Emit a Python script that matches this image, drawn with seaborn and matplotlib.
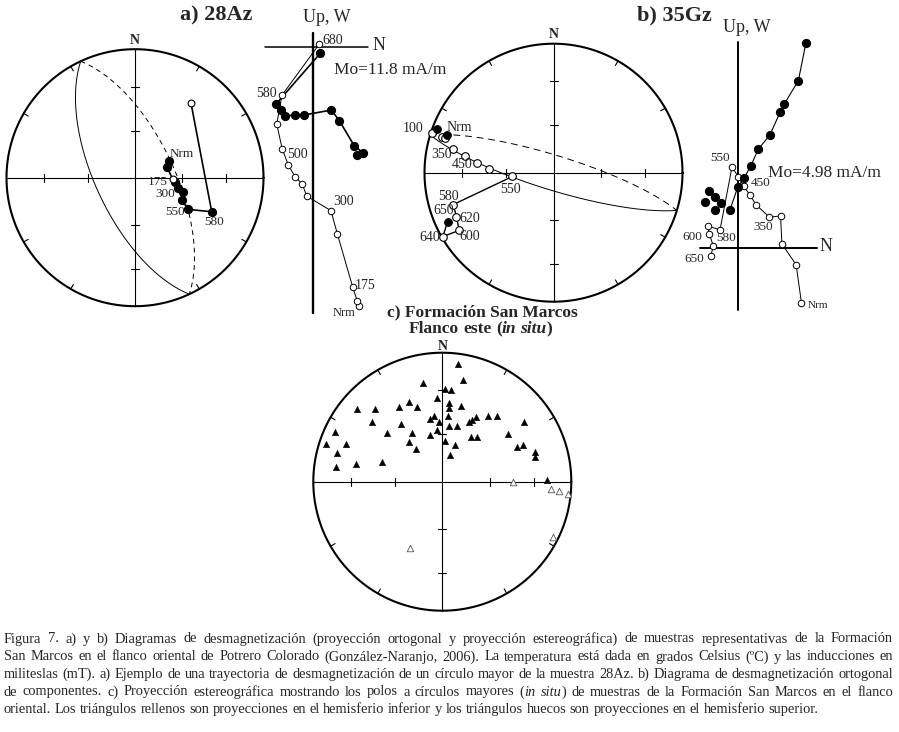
import numpy as np
import matplotlib
matplotlib.use("Agg")
import matplotlib.pyplot as plt
import seaborn as sns

W, H = 899, 732

# ---- a) 28Az, equal-area net (east, north on unit primitive), demag order
a_net_east = [0.267, 0.251, 0.293, 0.311, 0.337, 0.376, 0.368, 0.410, 0.597, 0.436]
a_net_north = [0.130, 0.081, -0.013, -0.031, -0.078, -0.109, -0.174, -0.246, -0.265, 0.579]
a_net_lower = [1, 1, 0, 1, 1, 1, 1, 1, 1, 0]
a_plane = (245, 65)  # dip direction, dip of the fitted great circle

# ---- a) 28Az, orthogonal plot (mA/m)
a_open_n = [2.05, 1.97, 1.77, 1.08, 0.79, -0.30, -0.49, -0.82, -1.12, -1.39, -1.64, -1.40, 0.27]
a_open_up = [-11.63, -11.40, -10.79, -8.40, -7.35, -6.70, -6.16, -5.83, -5.30, -4.60, -3.47, -2.17, 0.12]
a_fill_n = [1.97, 2.22, 1.84, 1.17, 0.81, -0.40, -0.83, -1.26, -1.45, -1.67, 0.31]
a_fill_up = [-4.86, -4.75, -4.45, -3.32, -2.84, -3.06, -3.06, -3.11, -2.84, -2.57, -0.30]

# ---- b) 35Gz, equal-area net
b_net_east = [-0.905, -0.940, -0.867, -0.841, -0.829, -0.781, -0.686, -0.591, -0.498,
              -0.318, -0.777, -0.752, -0.731, -0.859, -0.820]
b_net_north = [0.336, 0.305, 0.279, 0.267, 0.296, 0.184, 0.129, 0.073, 0.026,
               -0.029, -0.247, -0.343, -0.447, -0.496, -0.380]
b_net_lower = [1, 0, 0, 0, 1, 0, 0, 0, 0, 0, 0, 0, 0, 0, 1]
b_net_linked = 9  # points from 550 on are joined
b_plane = (197, 79)

# ---- b) 35Gz, orthogonal plot (mA/m)
b_open_n = [1.42, 1.30, 0.98, 0.95, 0.70, 0.40, 0.26, 0.12, 0.00, -0.14, -0.41, -0.69, -0.65, -0.56, -0.62]
b_open_up = [-1.25, -0.39, 0.08, 0.71, 0.68, 0.96, 1.18, 1.38, 1.58, 1.82, 0.40, 0.48, 0.30, 0.03, -0.19]
b_fill_n = [1.52, 1.35, 1.03, 0.94, 0.71, 0.45, 0.28, 0.13, -0.01, -0.19]
b_fill_up = [4.60, 3.75, 3.22, 3.04, 2.53, 2.21, 1.83, 1.56, 1.36, 0.84]
b_loose_n = [-0.66, -0.52, -0.75, -0.40, -0.52]
b_loose_up = [1.28, 1.13, 1.02, 1.01, 0.84]

# ---- c) poles to great circles, in situ
c_low_x = [0.124, 0.163, -0.147, 0.021, 0.065, -0.043, -0.256, -0.333, -0.194, -0.664,
           -0.522, 0.054, 0.052, 0.143, 0.047, -0.062, -0.095, -0.023, -0.547, -0.322,
           0.209, 0.228, 0.259, 0.357, 0.422, 0.633, 0.052, 0.116, -0.039, -0.237,
           -0.095, -0.431, -0.829, -0.902, -0.747, -0.256, 0.021, 0.225, 0.269, 0.512,
           0.581, 0.628, 0.721, 0.721, -0.204, 0.101, 0.062, -0.814, -0.822, -0.669,
           -0.470, 0.814]
c_low_y = [0.910, 0.788, 0.763, 0.716, 0.711, 0.651, 0.615, 0.581, 0.581, 0.564,
           0.561, 0.612, 0.574, 0.587, 0.509, 0.512, 0.486, 0.460, 0.465, 0.445,
           0.460, 0.478, 0.499, 0.512, 0.509, 0.463, 0.434, 0.434, 0.401, 0.380,
           0.362, 0.375, 0.383, 0.290, 0.292, 0.310, 0.316, 0.347, 0.344, 0.367,
           0.267, 0.282, 0.230, 0.194, 0.251, 0.284, 0.207, 0.220, 0.116, 0.135,
           0.153, 0.011]
c_up_x = [0.550, 0.840, 0.907, 0.973, 0.856, -0.250]
c_up_y = [0.000, -0.059, -0.072, -0.095, -0.426, -0.517]

caption = [
    "Figura 7. a) y b) Diagramas de desmagnetización (proyección ortogonal y proyección estereográfica) de muestras representativas de la Formación",
    "San Marcos en el flanco oriental de Potrero Colorado (González-Naranjo, 2006). La temperatura está dada en grados Celsius (ºC) y las inducciones en",
    "militeslas (mT). a) Ejemplo de una trayectoria de desmagnetización de un círculo mayor de la muestra 28Az. b) Diagrama de desmagnetización ortogonal",
    "de componentes. c) Proyección estereográfica mostrando los polos a círculos mayores (|in situ|) de muestras de la Formación San Marcos en el flanco",
    "oriental. Los triángulos rellenos son proyecciones en el hemisferio inferior y los triángulos huecos son proyecciones en el hemisferio superior.",
]

sns.set_theme(style="white")
plt.rcParams["font.family"] = ["Liberation Serif", "DejaVu Serif"]

fig = plt.figure(figsize=(W / 100, H / 100), dpi=100)
fig.patch.set_facecolor("white")
renderer = fig.canvas.get_renderer()
limits = []


def px_axes(x0, y0, x1, y1, xlim, ylim):
    ax = fig.add_axes([x0 / W, 1 - y1 / H, (x1 - x0) / W, (y1 - y0) / H])
    ax.set_axis_off()
    limits.append((ax, xlim, ylim))
    return ax


def label(x, y, s, size=10, ha="center", **kw):
    return fig.text(x / W, 1 - y / H, s, fontsize=size, ha=ha, va="center", **kw)


def fig_line(x0, y0, x1, y1, lw):
    fig.add_artist(plt.Line2D([x0 / W, x1 / W], [1 - y0 / H, 1 - y1 / H],
                              color="black", lw=lw, zorder=-1))


def ea_r(inc):
    return np.sqrt(2) * np.sin(np.radians(90 - inc) / 2)


def stereonet(cx, cy, r, pad=34, n_gap=9):
    lim = 1 + pad / r
    ax = px_axes(cx - r - pad, cy - r - pad, cx + r + pad, cy + r + pad, (-lim, lim), (-lim, lim))
    t = np.linspace(0, 2 * np.pi, 361)
    ax.plot(np.cos(t), np.sin(t), color="black", lw=1.5)
    ax.plot([-1, 1], [0, 0], color="black", lw=0.8)
    ax.plot([0, 0], [-1, 1], color="black", lw=0.8)
    k = 4.0 / r
    for inc in (30, 60):
        d = ea_r(inc)
        for s in (-d, d):
            ax.plot([s, s], [-k, k], color="black", lw=0.8)
            ax.plot([-k, k], [s, s], color="black", lw=0.8)
    for az in np.radians([30, 60, 120, 150, 210, 240, 300, 330]):
        ax.plot([np.sin(az), (1 - 1.3 * k) * np.sin(az)],
                [np.cos(az), (1 - 1.3 * k) * np.cos(az)], color="black", lw=0.8)
    label(cx, cy - r - n_gap, "N", size=10, fontweight="bold")
    return ax


def great_circle(dd, dip, upper=False):
    t = np.linspace(0, np.pi, 181) + (np.pi if upper else 0)
    a, d = np.radians(dd), np.radians(dip)
    strike = np.array([np.sin(a - np.pi / 2), np.cos(a - np.pi / 2), 0])
    down = np.array([np.sin(a) * np.cos(d), np.cos(a) * np.cos(d), np.sin(d)])
    p = np.outer(np.cos(t), strike) + np.outer(np.sin(t), down)
    inc = np.arcsin(np.clip(np.abs(p[:, 2]), 0, 1))
    az = np.arctan2(p[:, 0], p[:, 1])
    r = np.sqrt(2) * np.sin((np.pi / 2 - inc) / 2)
    return r * np.sin(az), r * np.cos(az)


def path(ax, x, y, lw=1.0, **kw):
    sns.lineplot(x=list(x), y=list(y), sort=False, estimator=None, color="black",
                 lw=lw, ax=ax, **kw)


def dots(ax, x, y, filled, s=30, marker="o", lw=0.8, edge="black"):
    if len(x) == 0:
        return
    sns.scatterplot(x=list(x), y=list(y), color="black" if filled else "white",
                    edgecolor=edge, linewidth=lw, s=s, marker=marker, zorder=3, ax=ax)


def split(x, y, flags, want):
    return ([v for v, f in zip(x, flags) if f == want],
            [v for v, f in zip(y, flags) if f == want])


def text_width(s, size, weight="normal"):
    t = fig.text(0, 0, s, fontsize=size, fontweight=weight)
    w = t.get_window_extent(renderer).width
    t.remove()
    return w


def rich_line(y, line, size, x0, x1=None, center=None, weight="normal"):
    words, italic = [], False
    for w in line.split(" "):
        pieces = []
        for i, part in enumerate(w.split("|")):
            if i > 0:
                italic = not italic
            if part:
                pieces.append((part, italic))
        words.append(pieces)
    objs, widths = [], []
    for pieces in words:
        row, wsum = [], 0.0
        for txt, it in pieces:
            t = label(0, y, txt, size=size, ha="left", fontweight=weight,
                      fontstyle="italic" if it else "normal")
            wd = t.get_window_extent(renderer).width
            row.append((t, wd))
            wsum += wd
        objs.append(row)
        widths.append(wsum)
    space = size * 100 / 72 * 0.25
    if x1 is not None:
        gap = (x1 - x0 - sum(widths)) / (len(words) - 1)
    else:
        gap = space
    if center is not None:
        x0 = center - (sum(widths) + gap * (len(words) - 1)) / 2
    x = x0
    for row, wsum in zip(objs, widths):
        for t, wd in row:
            t.set_x(x / W)
            x += wd
        x += gap


# ---------------- panel a: stereonet
ax = stereonet(135, 177.7, 128.5)
gx, gy = great_circle(*a_plane)
path(ax, gx, gy, lw=0.7)
gx, gy = great_circle(*a_plane, upper=True)
path(ax, gx, gy, lw=0.7, linestyle=(0, (5, 4)))
path(ax, a_net_east, a_net_north, lw=1.2)
dots(ax, *split(a_net_east, a_net_north, a_net_lower, 1), True, s=34)
dots(ax, *split(a_net_east, a_net_north, a_net_lower, 0), False, s=24)
for x, y, s in [(181.7, 154, "Nrm"), (157.5, 182, "175"), (165, 194, "300"),
                (175, 211.7, "550"), (214, 221.7, "580")]:
    label(x, y, s, size=9.5)
label(216.5, 15, "a) 28Az", size=16, fontweight="bold")

# ---------------- panel a: orthogonal plot
box, org, sc = (250, 0, 400, 330), (313.3, 46.7), 22.3
ax = px_axes(*box, ((box[0] - org[0]) / sc, (box[2] - org[0]) / sc),
             ((org[1] - box[3]) / sc, (org[1] - box[1]) / sc))
fig_line(313.3, 33, 313.3, 313, 1.7)
fig_line(265, 46.7, 368, 46.7, 1.1)
path(ax, a_open_n, a_open_up, lw=0.7)
path(ax, a_fill_n, a_fill_up, lw=1.2)
dots(ax, a_open_n, a_open_up, False, s=22, lw=0.7)
dots(ax, a_fill_n, a_fill_up, True, s=34)
for x, y, s in [(333, 40, "680"), (266.7, 93.3, "580"), (297.5, 154, "500"),
                (344, 201.7, "300"), (365, 285, "175")]:
    label(x, y, s, size=10)
label(344, 313.3, "Nrm", size=9)
label(326.7, 17, "Up, W", size=13)
label(379, 45, "N", size=13)
label(334, 70, "Mo=11.8 mA/m", size=12.5, ha="left")

# ---------------- panel b: stereonet
ax = stereonet(553.5, 172.7, 129)
gx, gy = great_circle(*b_plane)
path(ax, gx, gy, lw=0.7)
gx, gy = great_circle(*b_plane, upper=True)
path(ax, gx, gy, lw=0.7, linestyle=(0, (7, 5)))
path(ax, b_net_east[b_net_linked:], b_net_north[b_net_linked:], lw=1.0)
dots(ax, *split(b_net_east, b_net_north, b_net_lower, 0), False, s=30)
dots(ax, *split(b_net_east, b_net_north, b_net_lower, 1), True, s=30)
for x, y, s in [(413, 128.3, "100"), (459, 127.3, "Nrm"), (441.7, 154, "350"),
                (461.7, 165, "450"), (510, 189.3, "550"), (448.3, 196.7, "580"),
                (443.3, 210.7, "650"), (470, 218.3, "620"), (470, 236.7, "600"),
                (429.3, 237.3, "640")]:
    label(x, y, s, size=10)
label(674, 15, "b) 35Gz", size=16, fontweight="bold")

# ---------------- panel b: orthogonal plot
box, org, sc = (690, 20, 840, 320), (738.3, 247.5), 44.5
ax = px_axes(*box, ((box[0] - org[0]) / sc, (box[2] - org[0]) / sc),
             ((org[1] - box[3]) / sc, (org[1] - box[1]) / sc))
fig_line(738.3, 41.7, 738.3, 310, 1.4)
fig_line(700, 247.5, 816.7, 247.5, 1.4)
path(ax, b_open_n, b_open_up, lw=0.7)
path(ax, b_fill_n, b_fill_up, lw=0.8)
dots(ax, b_open_n, b_open_up, False, s=22, lw=0.7)
dots(ax, b_fill_n + b_loose_n, b_fill_up + b_loose_up, True, s=34)
for x, y, s in [(720, 158.3, "550"), (760.8, 183.3, "450"), (763.3, 227.3, "350"),
                (726, 238.3, "580"), (692, 237, "600"), (694, 259, "650")]:
    label(x, y, s, size=9.5)
label(808, 305.7, "Nrm", size=8, ha="left")
label(746.7, 27, "Up, W", size=13)
label(826, 246, "N", size=13)
label(768, 173, "Mo=4.98 mA/m", size=12.5, ha="left")

# ---------------- panel c
ax = stereonet(442.3, 481.7, 129, n_gap=6)
dots(ax, c_low_x, c_low_y, True, s=22, marker="^", lw=0.3)
dots(ax, c_up_x, c_up_y, False, s=22, marker="^", lw=0.6, edge="#555555")
label(482.5, 312, "c) Formación San Marcos", size=12.5, fontweight="bold")
rich_line(329, "Flanco este (|in situ|)", 12.5, 0, center=480.5, weight="bold")

# ---------------- caption: one size for all lines, justified like the print
widest = max(text_width(line.replace("|", ""), 10) for line in caption[:-1])
cap_size = 10 * 884 / widest
for i, (line, y) in enumerate(zip(caption, [639, 657, 674.5, 692, 709.5])):
    rich_line(y, line, cap_size, 4, x1=893 if i < len(caption) - 1 else None)

for ax, xl, yl in limits:
    ax.set_xlim(*xl)
    ax.set_ylim(*yl)

fig.savefig("out.png", dpi=100)
